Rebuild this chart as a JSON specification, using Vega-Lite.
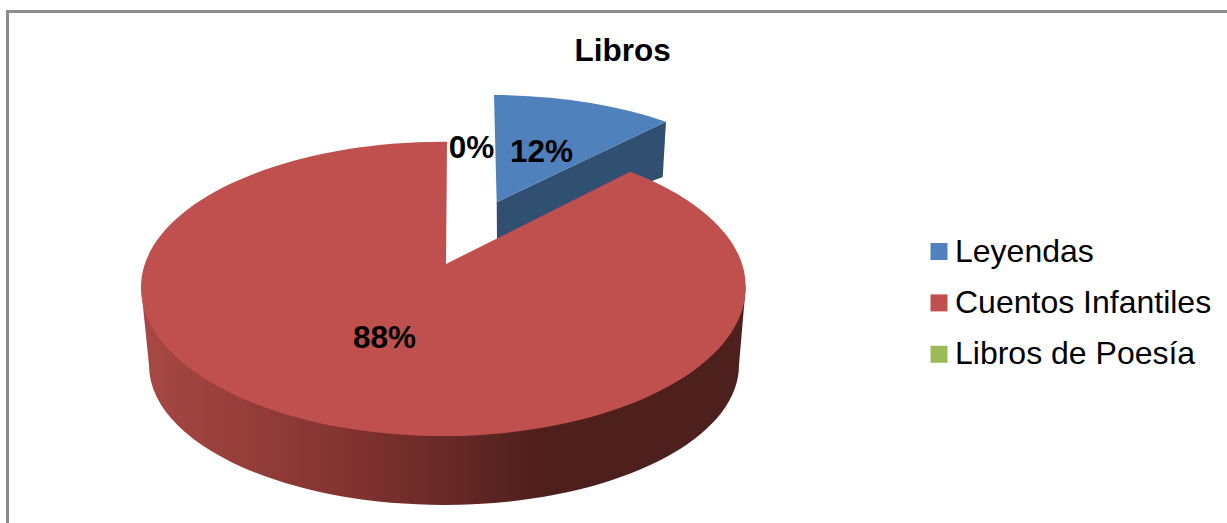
{
"$schema":"https://vega.github.io/schema/vega-lite/v6.json",
"width":1240,"height":540,
"autosize":{"type":"none"},
"padding":{"left":7.5,"top":11.5,"right":0,"bottom":0},
"background":"white",
"view":{"stroke":"#8c8c8c","strokeWidth":3,"fill":null},
"title":{"text":"Libros","font":"Liberation Sans","fontSize":31.5,"fontWeight":"bold","color":"#000000","anchor":"start","frame":"group","dx":567,"offset":-56},
"data":{"values":[
{"categoria":"Leyendas","porcentaje":0.12},
{"categoria":"Cuentos Infantiles","porcentaje":0.88},
{"categoria":"Libros de Poesía","porcentaje":0}
]},
"encoding":{
  "color":{"field":"categoria","type":"nominal",
   "scale":{"domain":["Leyendas","Cuentos Infantiles","Libros de Poesía"],"range":["#4f81bd","#c0504d","#9bbb59"]},
   "legend":{"title":null,"orient":"none","legendX":915.5,"legendY":224,"padding":0,"symbolType":"square","symbolSize":289,"symbolStrokeWidth":0,"symbolOpacity":1,"labelFont":"Liberation Sans","labelFontSize":32,"labelColor":"#000000","labelOffset":0,"rowPadding":19.4,"labelLimit":400}}
},
"layer":[
{"transform":[{"filter":"datum.categoria === 'Leyendas'"}],
 "mark":{"type":"point","filled":true,"opacity":1,"size":4000000,"strokeWidth":0,
  "shape":"M0.0385,-0.1598 L0.0352,-0.1045 L-0.1305,-0.0415 L-0.1308,-0.0793 Z"},
 "encoding":{"color":{"value":"#304f71"}}},
{"transform":[{"filter":"datum.categoria === 'Cuentos Infantiles'"}],
 "mark":{"type":"point","filled":true,"opacity":1,"size":4000000,"strokeWidth":0,
  "shape":"M-0.4865,0.0055 L-0.4785,0.0835 A0.295,0.14 0 0 0 0.1115,0.0835 L0.1182,0.0055 Z"},
 "encoding":{"color":{"value":{"gradient":"linear","x1":0,"y1":0,"x2":1,"y2":0,"stops":[{"offset":0,"color":"#a84844"},{"offset":0.33,"color":"#833431"},{"offset":0.67,"color":"#4d1f1d"},{"offset":1,"color":"#4d1f1d"}]}}}},
{"transform":[{"filter":"datum.categoria === 'Leyendas'"}],
 "mark":{"type":"point","filled":true,"opacity":1,"size":4000000,"strokeWidth":0,
  "shape":"M-0.1335,-0.1865 A0.302,0.146 0 0 1 0.0385,-0.1598 L-0.1308,-0.0793 Z"}},
{"transform":[{"filter":"datum.categoria === 'Cuentos Infantiles'"}],
 "mark":{"type":"point","filled":true,"opacity":1,"size":4000000,"strokeWidth":0,
  "shape":"M-0.1815,-0.0175 L-0.1805,-0.1398 A0.3023,0.1455 0 0 0 -0.4865,0.0055 A0.3023,0.149 0 0 0 0.1182,0.0055 A0.3023,0.1455 0 0 0 0.0025,-0.1098 Z"}},
{"transform":[{"filter":"datum.categoria === 'Libros de Poesía'"}],
 "mark":{"type":"point","filled":true,"opacity":1,"size":4000000,"strokeWidth":0,"shape":"M0,0"}},
{"transform":[{"filter":"datum.categoria === 'Cuentos Infantiles'"}],
 "mark":{"type":"text","font":"Liberation Sans","fontSize":31.5,"fontWeight":"bold","dx":-243,"dy":57.5},
 "encoding":{"color":{"value":"#000000"},"text":{"field":"porcentaje","type":"quantitative","format":".0%"}}},
{"transform":[{"filter":"datum.categoria === 'Leyendas'"}],
 "mark":{"type":"text","font":"Liberation Sans","fontSize":31.5,"fontWeight":"bold","dx":-86,"dy":-128.5},
 "encoding":{"color":{"value":"#000000"},"text":{"field":"porcentaje","type":"quantitative","format":".0%"}}},
{"transform":[{"filter":"datum.categoria === 'Libros de Poesía'"}],
 "mark":{"type":"text","font":"Liberation Sans","fontSize":31.5,"fontWeight":"bold","dx":-156,"dy":-132.5},
 "encoding":{"color":{"value":"#000000"},"text":{"field":"porcentaje","type":"quantitative","format":".0%"}}}
]
}
